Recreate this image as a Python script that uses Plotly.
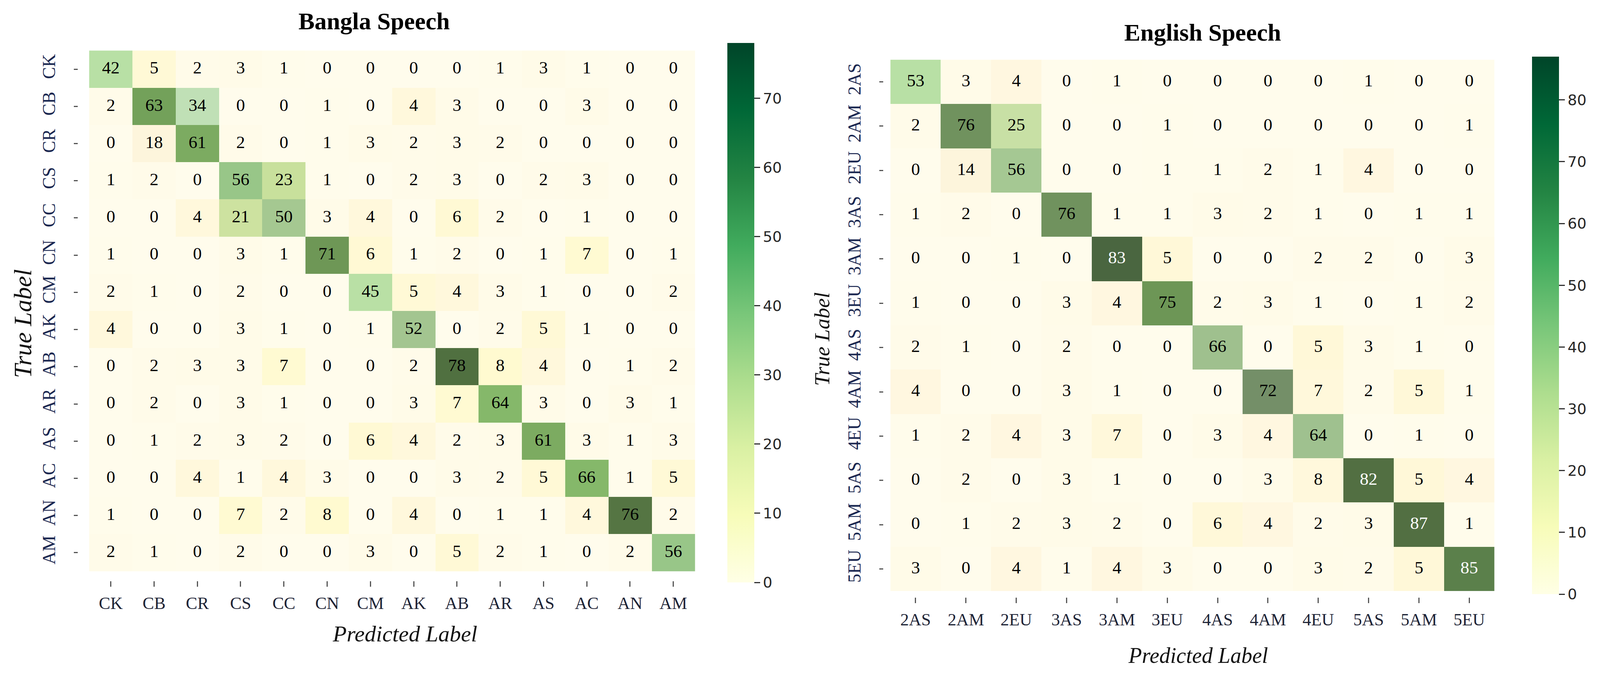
import plotly.graph_objects as go

# ---------------- data ----------------
bangla_labels = ["CK", "CB", "CR", "CS", "CC", "CN", "CM", "AK", "AB", "AR", "AS", "AC", "AN", "AM"]
bangla_cm = [
    [42, 5, 2, 3, 1, 0, 0, 0, 0, 1, 3, 1, 0, 0],
    [2, 63, 34, 0, 0, 1, 0, 4, 3, 0, 0, 3, 0, 0],
    [0, 18, 61, 2, 0, 1, 3, 2, 3, 2, 0, 0, 0, 0],
    [1, 2, 0, 56, 23, 1, 0, 2, 3, 0, 2, 3, 0, 0],
    [0, 0, 4, 21, 50, 3, 4, 0, 6, 2, 0, 1, 0, 0],
    [1, 0, 0, 3, 1, 71, 6, 1, 2, 0, 1, 7, 0, 1],
    [2, 1, 0, 2, 0, 0, 45, 5, 4, 3, 1, 0, 0, 2],
    [4, 0, 0, 3, 1, 0, 1, 52, 0, 2, 5, 1, 0, 0],
    [0, 2, 3, 3, 7, 0, 0, 2, 78, 8, 4, 0, 1, 2],
    [0, 2, 0, 3, 1, 0, 0, 3, 7, 64, 3, 0, 3, 1],
    [0, 1, 2, 3, 2, 0, 6, 4, 2, 3, 61, 3, 1, 3],
    [0, 0, 4, 1, 4, 3, 0, 0, 3, 2, 5, 66, 1, 5],
    [1, 0, 0, 7, 2, 8, 0, 4, 0, 1, 1, 4, 76, 2],
    [2, 1, 0, 2, 0, 0, 3, 0, 5, 2, 1, 0, 2, 56],
]

english_labels = ["2AS", "2AM", "2EU", "3AS", "3AM", "3EU", "4AS", "4AM", "4EU", "5AS", "5AM", "5EU"]
english_cm = [
    [53, 3, 4, 0, 1, 0, 0, 0, 0, 1, 0, 0],
    [2, 76, 25, 0, 0, 1, 0, 0, 0, 0, 0, 1],
    [0, 14, 56, 0, 0, 1, 1, 2, 1, 4, 0, 0],
    [1, 2, 0, 76, 1, 1, 3, 2, 1, 0, 1, 1],
    [0, 0, 1, 0, 83, 5, 0, 0, 2, 2, 0, 3],
    [1, 0, 0, 3, 4, 75, 2, 3, 1, 0, 1, 2],
    [2, 1, 0, 2, 0, 0, 66, 0, 5, 3, 1, 0],
    [4, 0, 0, 3, 1, 0, 0, 72, 7, 2, 5, 1],
    [1, 2, 4, 3, 7, 0, 3, 4, 64, 0, 1, 0],
    [0, 2, 0, 3, 1, 0, 0, 3, 8, 82, 5, 4],
    [0, 1, 2, 3, 2, 0, 6, 4, 2, 3, 87, 1],
    [3, 0, 4, 1, 4, 3, 0, 0, 3, 2, 5, 85],
]

colorbar_ticks_bangla = [0, 10, 20, 30, 40, 50, 60, 70]
colorbar_ticks_english = [0, 10, 20, 30, 40, 50, 60, 70, 80]

# ---------------- styles ----------------
W, H = 4232, 1728  # reference pixel frame used to express positions
SERIF = "Liberation Serif, Times New Roman, serif"
SANS = "DejaVu Sans, sans-serif"

YLGN = [[0.0, "#ffffe5"], [0.125, "#f7fcb9"], [0.25, "#d9f0a3"], [0.375, "#addd8e"],
        [0.5, "#78c679"], [0.625, "#41ab5d"], [0.75, "#238443"], [0.875, "#006837"],
        [1.0, "#004529"]]

bangla_cell_stops = [
    (0, "#fffcec"), (3, "#fffbe8"), (4, "#fff8dc"), (5, "#fff9d6"), (8, "#fffad0"),
    (18, "#fdf5dc"), (21, "#cde2a0"), (23, "#c8e09c"), (34, "#c0e0b6"), (42, "#b8e0a5"),
    (45, "#b9e0a5"), (50, "#a5c891"), (52, "#a3c590"), (56, "#98c688"), (61, "#7cab61"),
    (63, "#73a15a"), (64, "#85b86a"), (66, "#85b86a"), (71, "#6e9756"), (76, "#557543"),
    (78, "#507040"),
]
english_cell_stops = [
    (0, "#fffcec"), (3, "#fffbe8"), (4, "#fff7e0"), (5, "#fff8d8"), (8, "#fff8dc"),
    (14, "#fdf5dc"), (25, "#c8e0a5"), (53, "#b8e0a5"), (56, "#a5c893"), (64, "#9fc18f"),
    (66, "#9fc08e"), (72, "#748f68"), (75, "#6d9656"), (76, "#70925e"), (82, "#526f42"),
    (83, "#4a6640"), (85, "#5b804b"), (87, "#526f42"),
]


def to_scale(stops):
    vmax = stops[-1][0]
    return [[v / vmax, c] for v, c in stops]


def px_x(p):
    return p / W


def px_y(p):
    return 1 - p / H


fig = go.Figure()


def add_matrix(labels, cm, cell_stops, xa, ya, cb_x, cb_y, cb_len, cb_ticks):
    zmax = max(max(r) for r in cm)
    fig.add_trace(go.Heatmap(
        z=cm, x=labels, y=labels, xaxis=xa, yaxis=ya,
        colorscale=to_scale(cell_stops), zmin=0, zmax=zmax,
        showscale=False, hoverinfo="skip",
    ))
    xs, ys, txt, vals, cols = [], [], [], [], []
    for i, row in enumerate(cm):
        for j, v in enumerate(row):
            xs.append(labels[j])
            ys.append(labels[i])
            txt.append(str(v))
            vals.append(v)
            cols.append("white" if v >= 80 else "black")
    fig.add_trace(go.Scatter(
        x=xs, y=ys, text=txt, mode="markers+text", xaxis=xa, yaxis=ya,
        textfont=dict(family=SERIF, size=45, color=cols),
        textposition="middle center", hoverinfo="skip", showlegend=False,
        marker=dict(color=vals, colorscale=YLGN, cmin=0, cmax=zmax, showscale=True,
                    size=1, opacity=0,
                    colorbar=dict(
                        x=cb_x, xanchor="left", y=cb_y, yanchor="middle",
                        len=cb_len, lenmode="fraction", thickness=69,
                        xpad=0, ypad=0, outlinewidth=0,
                        tickmode="array", tickvals=cb_ticks,
                        ticks="outside", ticklen=15, tickwidth=3, tickcolor="#333333",
                        tickfont=dict(family=SANS, size=38, color="#262626"),
                    )),
    ))


add_matrix(bangla_labels, bangla_cm, bangla_cell_stops, "x", "y",
           px_x(1924), (px_y(110) + px_y(1491)) / 2, (1491 - 110) / H, colorbar_ticks_bangla)
add_matrix(english_labels, english_cm, english_cell_stops, "x2", "y2",
           px_x(4052), (px_y(145) + px_y(1521)) / 2, (1521 - 145) / H, colorbar_ticks_english)

xtick_font = dict(family=SERIF, size=44, color="#1e2436")
ytick_font = dict(family=SERIF, size=46, color="#1a2750")

common_x = dict(type="category", showgrid=False, zeroline=False, showline=False,
                ticks="outside", ticklen=14, tickwidth=3, tickcolor="#555555",
                tickfont=xtick_font, ticklabelstandoff=4)
common_y = dict(type="category", showgrid=False, zeroline=False, showline=False,
                ticks="outside", ticklen=10, tickwidth=3, tickcolor="#555555",
                tickfont=ytick_font, tickangle=-90, autorange="reversed",
                ticklabelstandoff=30)

fig.update_layout(
    autosize=True,
    margin=dict(l=0, r=0, t=0, b=0, autoexpand=False),
    paper_bgcolor="white", plot_bgcolor="white",
    showlegend=False,
    xaxis=dict(domain=[px_x(207), px_x(1867)], anchor="y",
               categoryorder="array", categoryarray=bangla_labels, **common_x),
    yaxis=dict(domain=[px_y(1487), px_y(105)], anchor="x",
               categoryorder="array", categoryarray=bangla_labels, **common_y),
    xaxis2=dict(domain=[px_x(2337), px_x(3971)], anchor="y2",
                categoryorder="array", categoryarray=english_labels, **common_x),
    yaxis2=dict(domain=[px_y(1529), px_y(137)], anchor="x2",
                categoryorder="array", categoryarray=english_labels, **common_y),
)

ann = [
    dict(text="<b>Bangla Speech</b>", x=px_x(990), y=px_y(54),
         font=dict(family=SERIF, size=62, color="black")),
    dict(text="<b>English Speech</b>", x=px_x(3181), y=px_y(83),
         font=dict(family=SERIF, size=62, color="black")),
    dict(text="<i>Predicted Label</i>", x=px_x(1071), y=px_y(1622),
         font=dict(family=SERIF, size=58, color="#111111")),
    dict(text="<i>Predicted Label</i>", x=px_x(3169), y=px_y(1678),
         font=dict(family=SERIF, size=56, color="#111111")),
    dict(text="<i>True Label</i>", x=px_x(60), y=px_y(829), textangle=-90,
         font=dict(family=SERIF, size=64, color="#111111")),
    dict(text="<i>True Label</i>", x=px_x(2175), y=px_y(868), textangle=-90,
         font=dict(family=SERIF, size=55, color="#111111")),
]
for a in ann:
    fig.add_annotation(xref="paper", yref="paper", showarrow=False,
                       xanchor="center", yanchor="middle", **a)

post = ("document.documentElement.style.margin='0';"
        "document.documentElement.style.overflow='hidden';"
        "document.body.style.margin='0';"
        "document.body.style.overflow='hidden';"
        "Plotly.Plots.resize(document.getElementById('{plot_id}'));")

fig.write_html("out.html", default_width="100vw", default_height="100vh",
               config={"responsive": True, "displayModeBar": False}, post_script=post)
